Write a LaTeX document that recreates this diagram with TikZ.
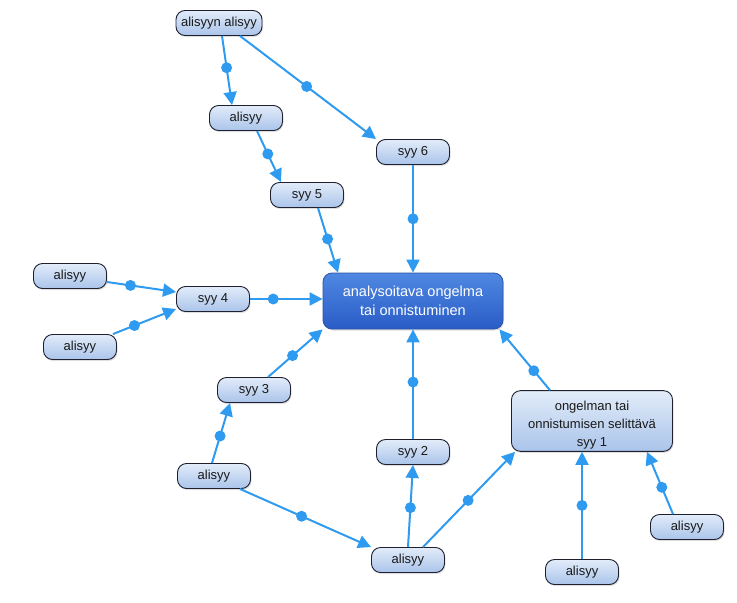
\documentclass[tikz,border=0pt]{standalone}
\usepackage{fontspec}
\setmainfont{Liberation Sans}
\usetikzlibrary{arrows.meta,shadows,calc}
\definecolor{conn}{HTML}{2E9BF0}
\definecolor{boxtop}{HTML}{E2ECF9}
\definecolor{boxbot}{HTML}{AAC4EA}
\definecolor{boxborder}{HTML}{1E2030}
\definecolor{maintop}{HTML}{4F88E2}
\definecolor{mainbot}{HTML}{2A5CC6}
\definecolor{mainborder}{HTML}{2A52A8}
\tikzset{
  box/.style={draw=boxborder, line width=0.9pt, rounded corners=9pt,
    top color=boxtop, bottom color=boxbot, minimum width=73pt, minimum height=25pt,
    inner sep=2pt, font=\fontsize{13}{18}\selectfont, text=black!90, align=center,
    drop shadow={shadow xshift=1pt, shadow yshift=-1.5pt, opacity=0.25}},
  mainbox/.style={draw=mainborder, line width=0.8pt, rounded corners=9pt,
    top color=maintop, bottom color=mainbot, minimum width=180pt, minimum height=56pt,
    font=\fontsize{14.5}{19}\selectfont, text=white, align=center,
    drop shadow={shadow xshift=1pt, shadow yshift=-1.5pt, opacity=0.25}},
  conn/.style={draw=conn, line width=2pt, -{Triangle[length=13pt,width=13pt]}},
  dot/.style={circle, fill=conn, draw=none, inner sep=0pt, minimum size=11pt}
}
\begin{document}
\begin{tikzpicture}[x=1pt,y=-1pt]
\useasboundingbox (0,0) rectangle (737,603);
\node[box, minimum width=86pt] (n1) at (219,23) {alisyyn alisyy};
\node[box] (n2) at (246,118) {alisyy};
\node[box] (s6) at (413,152) {syy 6};
\node[box] (s5) at (307,195) {syy 5};
\node[mainbox] (M) at (413,301) {analysoitava ongelma\\tai onnistuminen};
\node[box] (a4a) at (70,276) {alisyy};
\node[box] (s4) at (213,299) {syy 4};
\node[box] (a4b) at (80,347) {alisyy};
\node[box] (s3) at (254,390) {syy 3};
\node[box] (s2) at (413,452) {syy 2};
\node[box, minimum width=161pt, minimum height=60pt] (s1) at (592,421) {\rule{0pt}{18pt}ongelman tai\\onnistumisen selittävä\\syy 1};
\node[box] (a3) at (214,476) {alisyy};
\node[box] (ab) at (408,560) {alisyy};
\node[box] (ar) at (687,527) {alisyy};
\node[box] (abr) at (582,572) {alisyy};

\draw[conn] ([xshift=3pt]n1.south) -- ([xshift=-14pt]n2.north) node[dot, pos=0.46] (d1) {};
\draw[conn] ([xshift=21pt]n1.south) -- ([xshift=-37pt]s6.north) node[dot, pos=0.49] (d2) {};
\draw[conn] ([xshift=11pt]n2.south) -- ([xshift=-26pt]s5.north) node[dot, pos=0.45] (d3) {};
\draw[conn] ([xshift=11pt]s5.south) -- ([xshift=-75pt]M.north) node[dot, pos=0.48] (d4) {};
\draw[conn] (s6.south) -- (M.north) node[dot, pos=0.5] (d5) {};
\draw[conn] ([yshift=-6pt]a4a.east) -- ([yshift=7pt]s4.west) node[dot, pos=0.34] (d6) {};
\draw[conn] ([xshift=-4pt]a4b.north east) -- ([yshift=-10pt]s4.west) node[dot, pos=0.34] (d7) {};
\draw[conn] (s4.east) -- (s4.east -| M.west) node[dot, pos=0.32] (d8) {};
\draw[conn] ([xshift=14pt]s3.north) -- (M.south west) node[dot, pos=0.45] (d9) {};
\draw[conn] ([xshift=-2pt]a3.north) -- ([xshift=-24pt]s3.south) node[dot, pos=0.45] (d10) {};
\draw[conn] ([xshift=26pt]a3.south) -- (ab.north west) node[dot, pos=0.47] (d11) {};
\draw[conn] (ab.north) -- (s2.south) node[dot, pos=0.48] (d12) {};
\draw[conn] ([xshift=15pt]ab.north) -- ([xshift=4pt]s1.south west) node[dot, pos=0.49] (d13) {};
\draw[conn] (s2.north) -- (M.south) node[dot, pos=0.52] (d14) {};
\draw[conn] ([xshift=-42pt]s1.north) -- ([xshift=-4pt]M.south east) node[dot, pos=0.32] (d15) {};
\draw[conn] (abr.north) -- ([xshift=-10pt]s1.south) node[dot, pos=0.5] (d16) {};
\draw[conn] ([xshift=-14pt]ar.north) -- ([xshift=-26pt]s1.south east) node[dot, pos=0.43] (d17) {};
\end{tikzpicture}
\end{document}
